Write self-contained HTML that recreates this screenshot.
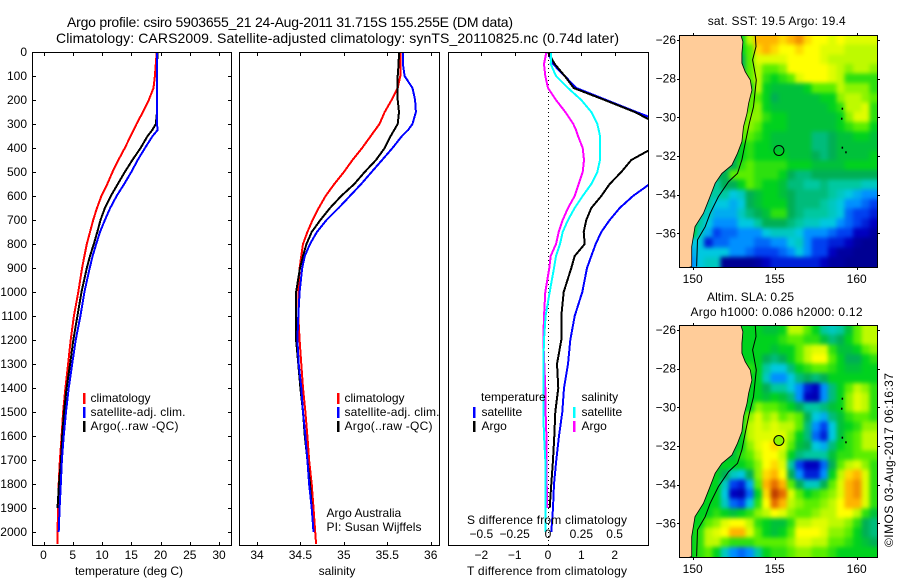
<!DOCTYPE html>
<html>
<head>
<meta charset="utf-8">
<title>Argo profile csiro 5903655_21</title>
<style>
html,body{margin:0;padding:0;background:#fff;}
svg{display:block;}
text{font-family:"Liberation Sans",sans-serif;font-size:12px;fill:#000;}
.title{font-size:14px;}
.frame{fill:none;stroke:#000;stroke-width:1;shape-rendering:crispEdges;}
</style>
</head>
<body>
<svg id="chart" xmlns="http://www.w3.org/2000/svg" width="900" height="580" viewBox="0 0 900 580">
  <defs>
    <clipPath id="clip-t"><rect x="32" y="52" width="199" height="494"/></clipPath>
    <clipPath id="clip-s"><rect x="240" y="52" width="200" height="494"/></clipPath>
    <clipPath id="clip-d"><rect x="448" y="52" width="200" height="494"/></clipPath>
    <clipPath id="clip-m1"><rect x="679.5" y="35" width="198" height="232"/></clipPath>
    <clipPath id="clip-m2"><rect x="679.5" y="325" width="198" height="232"/></clipPath>
    <filter id="soften" filterUnits="userSpaceOnUse" x="640" y="0" width="260" height="580" color-interpolation-filters="sRGB">
      <feGaussianBlur stdDeviation="2"/>
    </filter>
  </defs>

  <text class="title" x="67" y="27" textLength="446">Argo profile: csiro 5903655_21 24-Aug-2011 31.715S 155.255E (DM data)</text>
  <text class="title" x="56" y="43" textLength="563">Climatology: CARS2009. Satellite-adjusted climatology: synTS_20110825.nc (0.74d later)</text>

  <g id="marks-t" clip-path="url(#clip-t)"></g>
  <g id="marks-s" clip-path="url(#clip-s)"></g>
  <line x1="548.5" y1="52" x2="548.5" y2="545" stroke="#000" stroke-width="1" stroke-dasharray="1 3" shape-rendering="crispEdges"/>
  <g id="marks-d" clip-path="url(#clip-d)"></g>

  <g id="map1" clip-path="url(#clip-m1)"></g>
  <g id="map2" clip-path="url(#clip-m2)"></g>

  <rect class="frame" x="32.5" y="52.5" width="199" height="493"/>
  <rect class="frame" x="239.5" y="52.5" width="200" height="493"/>
  <rect class="frame" x="448.5" y="52.5" width="200" height="493"/>
  <rect class="frame" x="679.5" y="35.5" width="198" height="232"/>
  <rect class="frame" x="679.5" y="325.5" width="198" height="232"/>
  <g id="axes"></g>

  <text x="129" y="575" text-anchor="middle">temperature (deg C)</text>
  <text x="337" y="575" text-anchor="middle">salinity</text>
  <text x="547" y="575" text-anchor="middle" textLength="160">T difference from climatology</text>
  <text x="547" y="524" text-anchor="middle" textLength="160">S difference from climatology</text>

  <g>
    <rect x="83" y="393" width="2.5" height="11" fill="#f00"/>
    <rect x="83" y="407" width="2.5" height="11" fill="#00f"/>
    <rect x="83" y="421" width="2.5" height="11" fill="#000"/>
    <text x="90.5" y="402">climatology</text>
    <text x="90.5" y="416" textLength="95">satellite-adj. clim.</text>
    <text x="90.5" y="430" textLength="88">Argo(..raw -QC)</text>
  </g>
  <g>
    <rect x="337" y="393" width="2.5" height="11" fill="#f00"/>
    <rect x="337" y="407" width="2.5" height="11" fill="#00f"/>
    <rect x="337" y="421" width="2.5" height="11" fill="#000"/>
    <text x="344.5" y="402">climatology</text>
    <text x="344.5" y="416" textLength="95">satellite-adj. clim.</text>
    <text x="344.5" y="430" textLength="88">Argo(..raw -QC)</text>
  </g>
  <g>
    <text x="481" y="401">temperature</text>
    <rect x="473" y="407" width="2.5" height="11" fill="#00f"/>
    <rect x="473" y="421" width="2.5" height="11" fill="#000"/>
    <text x="481.5" y="416">satellite</text>
    <text x="481.5" y="430">Argo</text>
    <text x="581.5" y="401">salinity</text>
    <rect x="573" y="407" width="2.5" height="11" fill="#0ff"/>
    <rect x="573" y="421" width="2.5" height="11" fill="#f0f"/>
    <text x="581.5" y="416">satellite</text>
    <text x="581.5" y="430">Argo</text>
  </g>

  <text x="326.5" y="517">Argo Australia</text>
  <text x="326.5" y="531" textLength="95">PI: Susan Wijffels</text>

  <text x="776.7" y="25" text-anchor="middle" textLength="138">sat. SST: 19.5 Argo: 19.4</text>
  <text x="707" y="301" textLength="87">Altim. SLA: 0.25</text>
  <text x="690.5" y="316" textLength="172">Argo h1000: 0.086 h2000: 0.12</text>
  <text transform="translate(893,547) rotate(-90)" textLength="174">©IMOS 03-Aug-2017 06:16:37</text>
</svg>

<script>
// ---- Profile data (depth in metres) ----
const depths = [0,50,100,150,200,250,300,325,350,400,450,500,550,600,650,700,750,800,850,900,1000,1100,1200,1300,1400,1500,1600,1700,1800,1900,2000,2050];
const tempClim = [19.35,19.2,19.05,18.8,18.0,17.0,15.9,15.4,14.9,13.9,12.8,11.8,10.9,9.9,9.15,8.5,7.95,7.4,7.0,6.6,5.95,5.2,4.65,4.2,3.75,3.35,3.1,2.8,2.6,2.5,2.4,2.4];
const tempSat = [19.4,19.4,19.4,19.4,19.4,19.4,19.4,19.5,18.65,17.35,16.1,15.0,13.8,12.5,11.4,10.5,9.65,9.0,8.4,7.9,7.0,6.3,5.5,4.9,4.3,3.85,3.45,3.15,2.95,2.75,2.6,null];
const tempArgo = [19.5,19.4,19.4,19.4,19.4,19.4,19.2,18.6,17.8,16.6,15.2,13.9,12.7,11.5,10.5,9.75,9.2,8.6,7.95,7.4,6.5,5.8,5.1,4.55,3.95,3.5,3.2,3.0,2.65,2.4,null,null];
const salClim = [35.65,35.65,35.65,35.62,35.55,35.47,35.41,35.36,35.31,35.21,35.10,35.0,34.89,34.79,34.71,34.64,34.58,34.53,34.51,34.49,34.476,34.476,34.49,34.51,34.53,34.557,34.58,34.6,34.63,34.65,34.67,34.68];
const salSat = [35.68,35.68,35.70,35.79,35.82,35.83,35.79,35.74,35.67,35.56,35.44,35.32,35.2,35.07,34.94,34.8,34.69,34.61,34.55,34.52,34.49,34.476,34.465,34.48,34.51,34.53,34.557,34.58,34.6,34.63,34.65,null];
const salArgo = [35.635,35.63,35.62,35.62,35.62,35.635,35.62,35.58,35.54,35.47,35.37,35.24,35.12,34.97,34.84,34.73,34.63,34.57,34.53,34.495,34.45,34.45,34.45,34.476,34.5,34.53,34.55,34.58,34.61,34.63,null,null];
const dTSat = [0,.15,.5,.85,1.75,2.65,3.6,3.7,3.75,3.45,3.2,3.3,3.05,2.55,2.15,1.85,1.6,1.43,1.3,1.17,1.03,.8,.67,.6,.48,.43,.33,.25,.18,.15,.1,null];
const dTArgo = [0,.2,.5,.77,1.7,2.6,3.3,3.3,3.3,3.15,2.5,2.2,1.85,1.6,1.3,1.15,1.07,1.1,.8,.7,.47,.4,.4,.27,.31,.22,.19,.15,.1,.05,null,null];
const dSSat = [.025,.02,.06,.15,.25,.325,.37,.38,.39,.39,.39,.37,.325,.26,.2,.15,.11,.09,.06,.045,.0125,-.018,-.03,-.035,-.035,-.035,-.03,-.02,-.02,-.018,-.018,null];
const dSArgo = [-.012,-.03,-.02,0,.06,.13,.19,.21,.225,.26,.27,.26,.23,.2,.15,.11,.08,.06,.02,.01,-.02,-.03,-.035,-.028,-.02,-.018,-.012,-.012,-.01,-.005,null,null];

// ---- Tick labels ----
const depthTicks = [0,100,200,300,400,500,600,700,800,900,1000,1100,1200,1300,1400,1500,1600,1700,1800,1900,2000];
const tempTicks = [0,5,10,15,20,25,30];
const salTicks = [34,34.5,35,35.5,36];
const dTTicks = [-2,-1,0,1,2];
const dSTicks = [-0.5,-0.25,0,0.25,0.5];
const lonTicks = [150,155,160];
const latTicks = [-26,-28,-30,-32,-34,-36];

// ---- Map data: 24 x 24 grids on 0.5 degree cells, colour-scale index 0 (navy) to 13 (dark red) ----
const sstGrid = [
[7,7,7,7,7,7,7,7,9,11,11,11,10.5,11,11.5,10.5,10,10,9.5,10,9.5,9.5,9.5,9.5],
[7,7,7,7,7,7,7,7,8,10.5,11,10.5,10,10,10.5,10,10,9.5,9.5,9.5,9,9,9,9],
[7,7,7,7,7,7,7,6,8,9.5,9.5,9.5,9.5,10,10,10,10,9.5,9,9,9,9,9,9],
[7,7,7,7,7,7,7,6,8,9,8,8,8.5,10,10,10,10,10,9.5,9,8.5,9,9,8.5],
[7,7,7,7,7,7,7,7,8,9,7.5,7,7.5,8,9.5,10,10,10,9.5,9,7.5,7.5,7.5,7.5],
[7,7,7,7,7,7,7,7,7,9,7,6.5,6.5,6.5,6.5,7,8,8,8,9,8.5,8.5,8.5,7.5],
[7,7,7,7,7,7,7,7,8,8,7,6,6.5,6.5,6.5,6.5,6.5,7,7,8.5,9,9,8.5,8],
[7,7,7,7,7,7,7,7,8,8.5,7,6.5,6.5,6.5,6.5,6.5,6.5,6.5,7,7.5,9,9,9.5,7.5],
[7,7,7,7,7,7,7,7,8.5,8.5,7.5,7,7,6.5,6.5,6.5,6.5,6.5,6.5,7,8.5,9.5,9.5,7.5],
[7,7,7,7,7,7,7,8,8.5,8,7,7,7,6.5,6.5,6.5,6.5,6.5,6.5,7,7.5,8,8,7],
[7,7,7,7,7,7,7,8,8,7.5,7,6.5,6.5,6.5,6.5,6.5,5.5,5.5,6,6.5,6.5,7,7,6.5],
[7,7,7,7,7,7,7,7,7.5,7,7,6.5,6.5,6.5,6.5,6.5,5.5,5.5,6,6.5,6.5,6.5,6.5,6.5],
[7,7,7,7,7,6,6,7,7.5,7,7,7,7,6.5,6.5,6.5,6,5.5,6,6.5,6.5,6.5,6.5,7],
[7,7,7,7,7,5.5,6,7.5,8,7.5,7.5,7.5,7.5,7,7,7,6.5,6.5,6.5,6.5,7,7,7,7],
[7,7,7,7,6,6,8,8,8,7.5,7.5,7.5,7,6,5.5,5.5,6,6,6,6,6,6,6,6],
[7,7,7,7,5,6,6,7,8,7.5,7,7,6.5,5.5,5.5,5,5,5.5,5,5,5,5,4.5,4.5],
[7,7,7,5,5,5,4,4.5,6,6.5,7,7,6.5,6,5.5,5.5,5.5,5.5,5,4.5,4,3.5,3,3],
[7,7,7,5,4,4,3.5,4,6,6.5,7,7,7,6,5.5,5.5,5.5,5,4.5,4,3,3,2.5,2],
[7,7,5,4.5,3.5,3.5,3.5,4.5,5.5,6,6.5,7.5,7.5,6,5.5,5,5,5,4.5,4,2.5,2,2,1.5],
[7,7,5,4,3,3,3,4,4,5,6,6,6,5.5,5,4.5,4.5,4,4,3,2.5,2,1.5,1],
[7,7,4.5,3.5,2,2.5,2.5,3,3,3,4,4.5,4.5,4.5,4,3,3,3,2.5,2,2,1,1,.5],
[7,4,4,1.5,2.5,2.5,3,3,3,2.5,2.5,3,3,4,4.5,3,2,2,1.5,1.5,1,.5,.3,.3],
[7,3.5,4,4,4,4,3,3,2.5,2,2,2,2.5,3,4,3,2,2,1,.5,.5,.3,.3,.3],
[7,3,4,4.5,4.5,.3,.3,.3,.3,.5,1,1.5,1.5,1.5,1.5,1.5,1.5,1,.5,.5,.3,.3,.3,.3]
];
const slaGrid = [
[7,7,7,7,7,7,7,7,7,7,6.5,6.5,7,9,9,8,7,5,4.5,5,6.5,8,9,9],
[7,7,7,7,7,7,7,7,7,7,7,7,7.5,8,8,7.5,7.5,6.5,5.5,6,7,8,9,9],
[7,7,7,7,7,7,7,7,7,7,7,6.5,7,7,8,9,9.5,9.5,7.5,6.5,6.5,7,8,8.5],
[7,7,7,7,7,7,7,7,7,7,6,5.5,6,7,8,9,10,10,8,7,6,6,7,7.5],
[7,7,7,7,7,7,7,7,7.5,7,5,4,4,5.5,7,7.5,8,8,7.5,7,6.5,6.5,7,7],
[7,7,7,7,7,7,7,7,7,7,4.5,3,3,4,5.5,6,5.5,6,7,7,7,7,7,7],
[7,7,7,7,7,7,7,7,7,7,6,5,5,4,3,1.5,1,3,5.5,7,8,9,8.5,7.5],
[7,7,7,7,7,7,7,7,7,7,6.5,7,6.5,5.5,3,1,.8,3,5.5,7,8.5,9.5,9,7.5],
[7,7,7,7,7,7,7,7,7,8.5,8,8,7.5,7,6,5,5,5.5,6.5,7,8.5,9.5,9,7.5],
[7,7,7,7,7,7,7,7,8.5,9.5,8.5,9,8,8.5,8,6,4,3.5,5.5,6.5,7.5,8,8,7.5],
[7,7,7,7,7,7,7,7,9,9.5,9,9.5,9,9,8,5.5,3,2,4,6.5,7,7.5,8.5,8.5],
[7,7,7,7,7,7,7,7,9,9.5,9.5,9.5,9.5,8.5,7,5.5,2.5,1.5,4,6.5,7.5,8,9,9],
[7,7,7,7,7,7,6.5,7,8.5,9.5,10,10.5,9.5,8,6.5,6,4,3.5,5.5,7,7.5,8,9,9],
[7,7,7,7,7,6.5,6.5,7.5,8,9,10,10,9,7,5.5,5,5,5,6.5,7.5,7.5,8,8,8],
[7,7,7,7,6.5,7,7,7,7.5,8.5,10,10.5,9.5,5,2,1,1,2.5,6,8,9,9.5,8.5,7.5],
[7,7,7,7,7,6,4.5,4,6,8.5,10.5,11,10,6,3,1.5,1.5,3,7,9,10.5,11,9.5,7.5],
[7,7,7,7,7,4.5,2,1.5,3.5,8,11,12,11,8,6,4.5,4.5,6,8,9.5,11,11.5,9.5,7.5],
[7,7,7,7,7,4,1,.7,2.5,7,10.5,13,12,9.5,8,7,7.5,8,8.5,9.5,11,11.5,9.5,7.5],
[7,7,7,7,7,4.5,2.5,2,4,7.5,10,12,11,9,8.5,8,8,8.5,9,10,11,11,9.5,7.5],
[7,7,7,7,7.5,7,6.5,7,7.5,8.5,9,10,9.5,8.5,8,8,8.5,9,9,10,10,9,7.5,6.5],
[7,7,7,8,8.5,9.5,10,10,9,7.5,7,6.5,6.5,7.5,9,9,9.5,9.5,9,9,8.5,7.5,6,5.5],
[7,7,7.5,9,9.5,10,11,11,9.5,8,7,6.5,7,8,10,10,10,9.5,8.5,8.5,8,7,6,5.5],
[7,7,7.5,9,9,8,7.5,7.5,7.5,8,8,8,8,8.5,9.5,9.5,9,9,8,8,7.5,7,6.5,6],
[7,7,7.5,8,7,4.5,3,2.5,3,5,7,7.5,7.5,8,8.5,8.5,8,8,7.5,7,7,7,7,7]
];
const gridLonStart = 149.19;
const gridLatStart = -25.74;
const gridStepLon = 0.504;
const gridStepLat = 0.4992;

const coastLons = [152.94,153.06,153.0,153.0,153.2,153.51,153.61,153.41,153.31,153.1,153.0,152.73,152.39,151.78,151.37,151.02,150.65,150.14,149.94,149.94];
const coastLats = [-25.76,-26.09,-26.69,-27.2,-27.64,-28.07,-28.59,-29.28,-29.79,-30.48,-31.26,-31.86,-32.47,-32.9,-33.41,-34.19,-34.97,-35.66,-36.69,-37.72];
const isobathLons = [153.82,153.86,153.65,153.88,153.71,153.45,153.2,153.0,152.73,152.18,151.57,151.06,150.76,150.29,150.24];
const isobathLats = [-25.76,-26.34,-27.03,-28.07,-29.45,-30.31,-31.34,-32.2,-32.9,-33.33,-34.1,-34.97,-35.66,-36.34,-37.72];
const islandLons = [159.08,159.04,159.08,159.3];
const islandLats = [-29.5,-30.02,-31.52,-31.76];
const argoLon = 155.255;
const argoLat = -31.715;
const argoSlaValue = 8.5;

// ---- Axis functions ----
function yDepth(d){ return 52 + 0.24 * d; }
function xTemp(t){ return 43.5 + 5.85 * t; }
function xSal(s){ return 257 + 86.85 * (s - 34); }
function xDT(v){ return 548 + 33.33 * v; }
function xDS(v){ return 548 + 133.3 * v; }
function xLon(l){ return 692.7 + 16.4 * (l - 150); }
function yLat(l, top){ return top + 5 + 19.33 * (-26 - l); }

const NS = 'http://www.w3.org/2000/svg';
function mk(tag, parent, attrs){
  const el = document.createElementNS(NS, tag);
  for (const k in attrs) el.setAttribute(k, attrs[k]);
  parent.appendChild(el);
  return el;
}

function profileLine(parent, values, xFn, color, width, name){
  let pts = [];
  values.forEach(function(v, i){
    if (v !== null) pts.push(xFn(v).toFixed(1) + ',' + yDepth(depths[i]).toFixed(1));
  });
  const el = mk('polyline', parent, {points: pts.join(' '), fill: 'none', stroke: color, 'stroke-width': width, 'shape-rendering': 'crispEdges'});
  
  
}

const gT = document.getElementById('marks-t');
profileLine(gT, tempClim, xTemp, '#f00', 2, 'temperature-climatology-line');
profileLine(gT, tempArgo, xTemp, '#000', 2, 'temperature-argo-line');
profileLine(gT, tempSat, xTemp, '#00f', 2, 'temperature-satellite-line');

const gS = document.getElementById('marks-s');
profileLine(gS, salClim, xSal, '#f00', 2, 'salinity-climatology-line');
profileLine(gS, salArgo, xSal, '#000', 2, 'salinity-argo-line');
profileLine(gS, salSat, xSal, '#00f', 2, 'salinity-satellite-line');

const gD = document.getElementById('marks-d');
profileLine(gD, dTSat, xDT, '#00f', 2, 't-difference-satellite-line');
profileLine(gD, dTArgo, xDT, '#000', 2, 't-difference-argo-line');
profileLine(gD, dSArgo, xDS, '#f0f', 2, 's-difference-argo-line');
profileLine(gD, dSSat, xDS, '#0ff', 2, 's-difference-satellite-line');

// ---- Axes ----
const axes = document.getElementById('axes');
function tick(x1, y1, x2, y2, name){
  const el = mk('line', axes, {x1: x1, y1: y1, x2: x2, y2: y2, stroke: '#000', 'stroke-width': 1, 'shape-rendering': 'crispEdges'});
  
  
}
function label(x, y, str, anchor, name){
  const el = mk('text', axes, {x: x, y: y, 'text-anchor': anchor});
  el.textContent = String(str).replace('-', '\u2212');
  
  
}
depthTicks.forEach(function(d){
  const y = Math.round(yDepth(d)) + 0.5;
  if (d > 0) {
    tick(32.5, y, 36, y, 'depth-tick-left');
    tick(228, y, 231.5, y, 'depth-tick-right');
  }
  label(27, yDepth(d) + 4, d, 'end', 'depth-tick-label');
});
tempTicks.forEach(function(t){
  const x = Math.round(xTemp(t)) + 0.5;
  tick(x, 52.5, x, 56, 'temperature-tick-top');
  tick(x, 542, x, 545.5, 'temperature-tick-bottom');
  label(xTemp(t), 559, t, 'middle', 'temperature-tick-label');
});
salTicks.forEach(function(s){
  const x = Math.round(xSal(s)) + 0.5;
  tick(x, 52.5, x, 56, 'salinity-tick-top');
  tick(x, 542, x, 545.5, 'salinity-tick-bottom');
  label(xSal(s), 559, s, 'middle', 'salinity-tick-label');
});
dTTicks.forEach(function(v){
  const x = Math.round(xDT(v)) + 0.5;
  tick(x, 52.5, x, 56, 't-difference-tick-top');
  label(xDT(v), 559, v, 'middle', 't-difference-tick-label');
});
dSTicks.forEach(function(v){
  label(xDS(v), 538, v, 'middle', 's-difference-tick-label');
});

// ---- Maps ----
const scaleColors = [[0,0,128],[0,0,192],[0,64,240],[0,144,255],[0,200,224],[0,200,160],[0,175,85],[0,210,30],[90,238,0],[190,250,0],[255,255,0],[255,180,0],[230,110,0],[190,60,0]];
function colorOf(v){
  const c = Math.max(0, Math.min(13, v));
  const i = Math.min(12, Math.floor(c));
  const f = c - i;
  const a = scaleColors[i];
  const b = scaleColors[i + 1];
  return 'rgb(' + Math.round(a[0] + (b[0] - a[0]) * f) + ',' + Math.round(a[1] + (b[1] - a[1]) * f) + ',' + Math.round(a[2] + (b[2] - a[2]) * f) + ')';
}
function drawMap(groupId, grid, top, circleFill, prefix){
  const g = document.getElementById(groupId);
  const cellGroup = mk('g', g, {filter: 'url(#soften)'});
  
  
  const rows = grid.length;
  grid.forEach(function(row, r){
    row.forEach(function(v, c){
      // outermost cells run past the frame so the softening does not fade at the clipped edge
      const x0 = xLon(gridLonStart + c * gridStepLon) - (c === 0 ? 14 : 0);
      const x1 = xLon(gridLonStart + (c + 1) * gridStepLon) + (c === row.length - 1 ? 14 : 0);
      const y0 = yLat(gridLatStart - r * gridStepLat, top) - (r === 0 ? 14 : 0);
      const y1 = yLat(gridLatStart - (r + 1) * gridStepLat, top) + (r === rows - 1 ? 14 : 0);
      const cell = mk('rect', cellGroup, {x: x0.toFixed(1), y: y0.toFixed(1), width: (x1 - x0 + 0.6).toFixed(1), height: (y1 - y0 + 0.6).toFixed(1), fill: colorOf(v), 'shape-rendering': 'crispEdges'});
      
      
    });
  });
  let land = coastLons.map(function(l, i){ return xLon(l).toFixed(1) + ',' + yLat(coastLats[i], top).toFixed(1); });
  land.push(xLon(149).toFixed(1) + ',' + yLat(-38, top).toFixed(1));
  land.push(xLon(149).toFixed(1) + ',' + yLat(-25.5, top).toFixed(1));
  const landEl = mk('polygon', g, {points: land.join(' '), fill: '#ffcc99', stroke: '#000', 'stroke-width': 0.8});
  
  
  const iso = isobathLons.map(function(l, i){ return xLon(l).toFixed(1) + ',' + yLat(isobathLats[i], top).toFixed(1); });
  const isoEl = mk('polyline', g, {points: iso.join(' '), fill: 'none', stroke: '#000', 'stroke-width': 1});
  
  
  islandLons.forEach(function(l, i){
    const isl = mk('rect', g, {x: xLon(l).toFixed(1), y: yLat(islandLats[i], top).toFixed(1), width: 1.5, height: 2, fill: '#000'});
    
    
  });
  const circle = mk('circle', g, {cx: xLon(argoLon).toFixed(1), cy: yLat(argoLat, top).toFixed(1), r: 5, fill: circleFill, stroke: '#000', 'stroke-width': 1});
  
  

  const bottom = top + 232;
  lonTicks.forEach(function(l){
    const x = Math.round(xLon(l)) + 0.5;
    tick(x, top + 0.5 - 2.5, x, top + 0.5, prefix + '-lon-tick-top');
    tick(x, bottom + 0.5, x, bottom + 3, prefix + '-lon-tick-bottom');
    label(xLon(l), bottom + 16, l, 'middle', prefix + '-lon-tick-label');
  });
  latTicks.forEach(function(l){
    const y = Math.round(yLat(l, top)) + 0.5;
    tick(677, y, 679.5, y, prefix + '-lat-tick-left');
    tick(877.5, y, 880, y, prefix + '-lat-tick-right');
    label(676, yLat(l, top) + 4, l, 'end', prefix + '-lat-tick-label');
  });
}
drawMap('map1', sstGrid, 35, 'none', 'sst-map');
drawMap('map2', slaGrid, 325, colorOf(argoSlaValue), 'sla-map');
</script>
</body>
</html>
